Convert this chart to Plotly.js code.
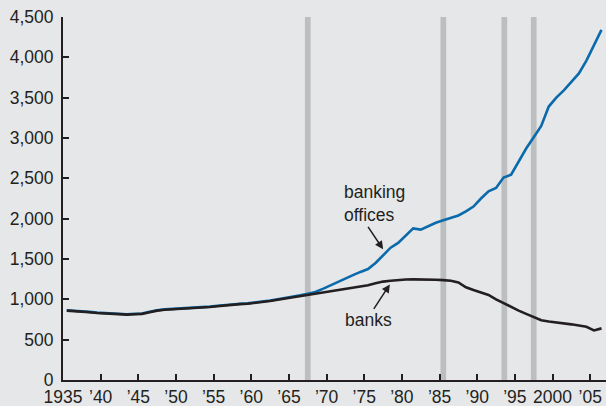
<!DOCTYPE html>
<html>
<head>
<meta charset="utf-8">
<script src="https://cdn.plot.ly/plotly-3.0.1.min.js"></script>
<style>html,body{margin:0;padding:0;background:#e6e7e9;}#chart{width:606px;height:406px;}</style>
</head>
<body>
<div id="chart"></div>
<script>
const years = [];
for (let y = 1935; y <= 2006; y++) years.push(y);

const banks = [
  860, 855, 850, 840, 830, 825, 815, 810, 810, 815,
  820, 840, 860, 870, 875, 880, 885, 890, 895, 905,
  915, 925, 935, 940, 945, 955, 965, 980, 995, 1010,
  1025, 1045, 1060, 1070, 1085, 1100, 1120, 1135, 1150, 1160,
  1175, 1200, 1220, 1230, 1240, 1245, 1248, 1248, 1246, 1242,
  1238, 1230, 1210, 1150, 1115, 1085, 1055, 1000, 950, 905,
  860, 820, 780, 740, 725, 715, 700, 690, 675, 660,
  615, 640
];

const offices = [
  865, 860, 855, 845, 835, 830, 820, 815, 815, 820,
  825, 845, 865, 875, 880, 885, 890, 895, 900, 910,
  920, 930, 940, 945, 950, 960, 970, 985, 1000, 1015,
  1030, 1050, 1070, 1090, 1130, 1175, 1220, 1265, 1300, 1340,
  1375, 1450, 1540, 1640, 1700, 1790, 1880, 1865, 1910, 1950,
  1980, 2010, 2040, 2090, 2150, 2250, 2340, 2380, 2510, 2545,
  2710, 2870, 3010, 3150, 3390, 3500, 3590, 3700, 3800, 3960,
  4160, 4340
];

const eventYears = [1967.5, 1985.5, 1993.6, 1997.5];

const xTickVals = [1935, 1940, 1945, 1950, 1955, 1960, 1965, 1970, 1975, 1980, 1985, 1990, 1995, 2000, 2005];
const xTickText = ['1935', '\u201940', '\u201945', '\u201950', '\u201955', '\u201960', '\u201965', '\u201970', '\u201975', '\u201980', '\u201985', '\u201990', '\u201995', '2000', '\u201905'];
const yTickVals = [0, 500, 1000, 1500, 2000, 2500, 3000, 3500, 4000, 4500];

const midYear = years.map(y => y + 0.5);
const ink = '#231f20';
const fontFam = '"Liberation Sans", Arial, Helvetica, sans-serif';

const traces = [
  {x: midYear, y: offices, type: 'scatter', mode: 'lines',
   line: {color: '#0a6aab', width: 2.6}, hoverinfo: 'skip'},
  {x: midYear, y: banks, type: 'scatter', mode: 'lines',
   line: {color: ink, width: 2.6}, hoverinfo: 'skip'}
];

const shapes = eventYears.map(e => ({
  type: 'rect', xref: 'x', yref: 'y', x0: e - 0.38, x1: e + 0.38, y0: 0, y1: 4500,
  fillcolor: '#bdbec0', line: {width: 0}, layer: 'below'
}));

const layout = {
  width: 606, height: 406,
  margin: {l: 63, r: 0, t: 17, b: 26},
  paper_bgcolor: '#e6e7e9', plot_bgcolor: '#e6e7e9',
  showlegend: false,
  font: {family: fontFam, size: 17.5, color: ink},
  xaxis: {
    range: [1935, 2007.1], showgrid: false, zeroline: false,
    showline: true, linecolor: ink, linewidth: 2,
    ticks: 'inside', ticklen: 6, tickwidth: 2, tickcolor: ink,
    tickvals: xTickVals, ticktext: xTickText,
    tickfont: {family: fontFam, size: 17.5, color: ink}
  },
  yaxis: {
    range: [0, 4500], showgrid: false, zeroline: false,
    showline: true, linecolor: ink, linewidth: 2,
    ticks: 'inside', ticklen: 6, tickwidth: 2, tickcolor: ink,
    tickvals: yTickVals, tickformat: ',d', ticklabelstandoff: 4,
    tickfont: {family: fontFam, size: 17.5, color: ink}
  },
  shapes: shapes,
  annotations: [
    {x: 1972.1, y: 2193, xref: 'x', yref: 'y', xanchor: 'left', yanchor: 'middle', align: 'left',
     text: 'banking<br>offices', showarrow: false, font: {family: fontFam, size: 17.5, color: ink}},
    {x: 1972.2, y: 743, xref: 'x', yref: 'y', xanchor: 'left', yanchor: 'middle', align: 'left',
     text: 'banks', showarrow: false, font: {family: fontFam, size: 17.5, color: ink}},
    {x: 1977.5, y: 1620, xref: 'x', yref: 'y', text: '', showarrow: true,
     ax: -16, ay: -24, arrowhead: 2, arrowsize: 1.1, arrowwidth: 1.5, arrowcolor: ink, standoff: 0},
    {x: 1978.4, y: 1185, xref: 'x', yref: 'y', text: '', showarrow: true,
     ax: -17, ay: 26, arrowhead: 2, arrowsize: 1.1, arrowwidth: 1.5, arrowcolor: ink, standoff: 0}
  ]
};

Plotly.newPlot('chart', traces, layout, {staticPlot: true, displayModeBar: false});
</script>
</body>
</html>
